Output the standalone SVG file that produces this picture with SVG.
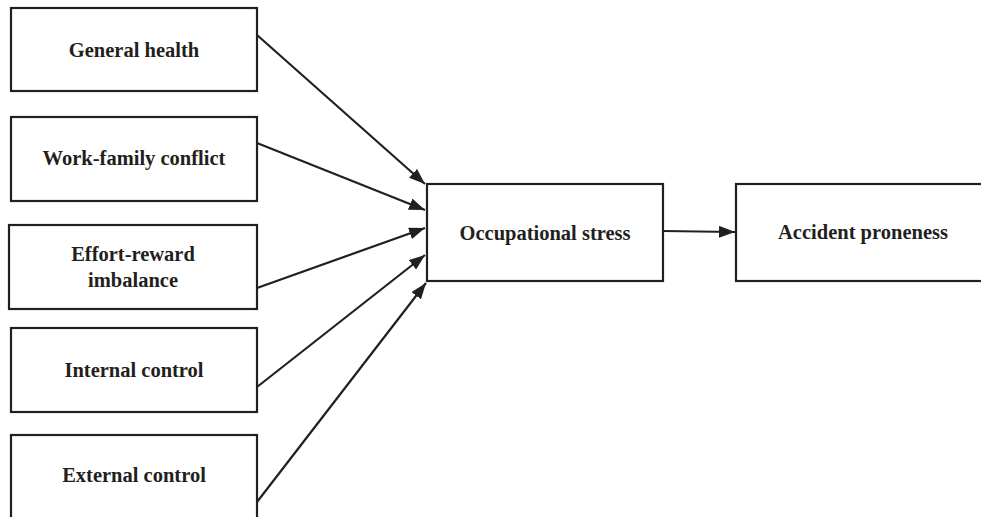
<svg xmlns="http://www.w3.org/2000/svg" width="981" height="517" viewBox="0 0 981 517">
<style>
.box{fill:#fff;stroke:#231f20;stroke-width:2.2}
.lbl{font-family:"Liberation Serif","Times New Roman",serif;font-weight:bold;font-size:20.5px;fill:#231f20;text-anchor:middle}
.con{stroke:#231f20;stroke-width:2.2;fill:none;marker-end:url(#ah)}
</style>
<defs>
<marker id="ah" markerWidth="16" markerHeight="12" refX="16" refY="6" orient="auto" markerUnits="userSpaceOnUse">
<path d="M0,0 L16,6 L0,12 Z" fill="#231f20"/>
</marker>
</defs>
<rect width="981" height="517" fill="#fff"/>
<g id="n1"><rect class="box" x="11" y="8" width="246" height="83"/><text class="lbl" x="134" y="57">General health</text></g>
<g id="n2"><rect class="box" x="11" y="117" width="246" height="84"/><text class="lbl" x="134" y="165">Work-family conflict</text></g>
<g id="n3"><rect class="box" x="9" y="225" width="248" height="84"/><text class="lbl" x="133" y="261">Effort-reward</text><text class="lbl" x="133" y="287">imbalance</text></g>
<g id="n4"><rect class="box" x="11" y="328" width="246" height="84"/><text class="lbl" x="134" y="377">Internal control</text></g>
<g id="n5"><rect class="box" x="11" y="435" width="246" height="90"/><text class="lbl" x="134" y="482">External control</text></g>
<g id="n6"><rect class="box" x="427" y="184" width="236" height="97"/><text class="lbl" x="545" y="240">Occupational stress</text></g>
<g id="n7"><rect class="box" x="736" y="184" width="260" height="97"/><text class="lbl" x="863" y="239">Accident proneness</text></g>
<g id="connectors">
<line class="con" x1="257" y1="35" x2="425" y2="184"/>
<line class="con" x1="257" y1="143" x2="425" y2="210"/>
<line class="con" x1="257" y1="288" x2="425" y2="228"/>
<line class="con" x1="257" y1="387" x2="425" y2="255"/>
<line class="con" x1="257" y1="502" x2="426" y2="283"/>
<line class="con" x1="663" y1="231" x2="735" y2="232"/>
</g>
</svg>
